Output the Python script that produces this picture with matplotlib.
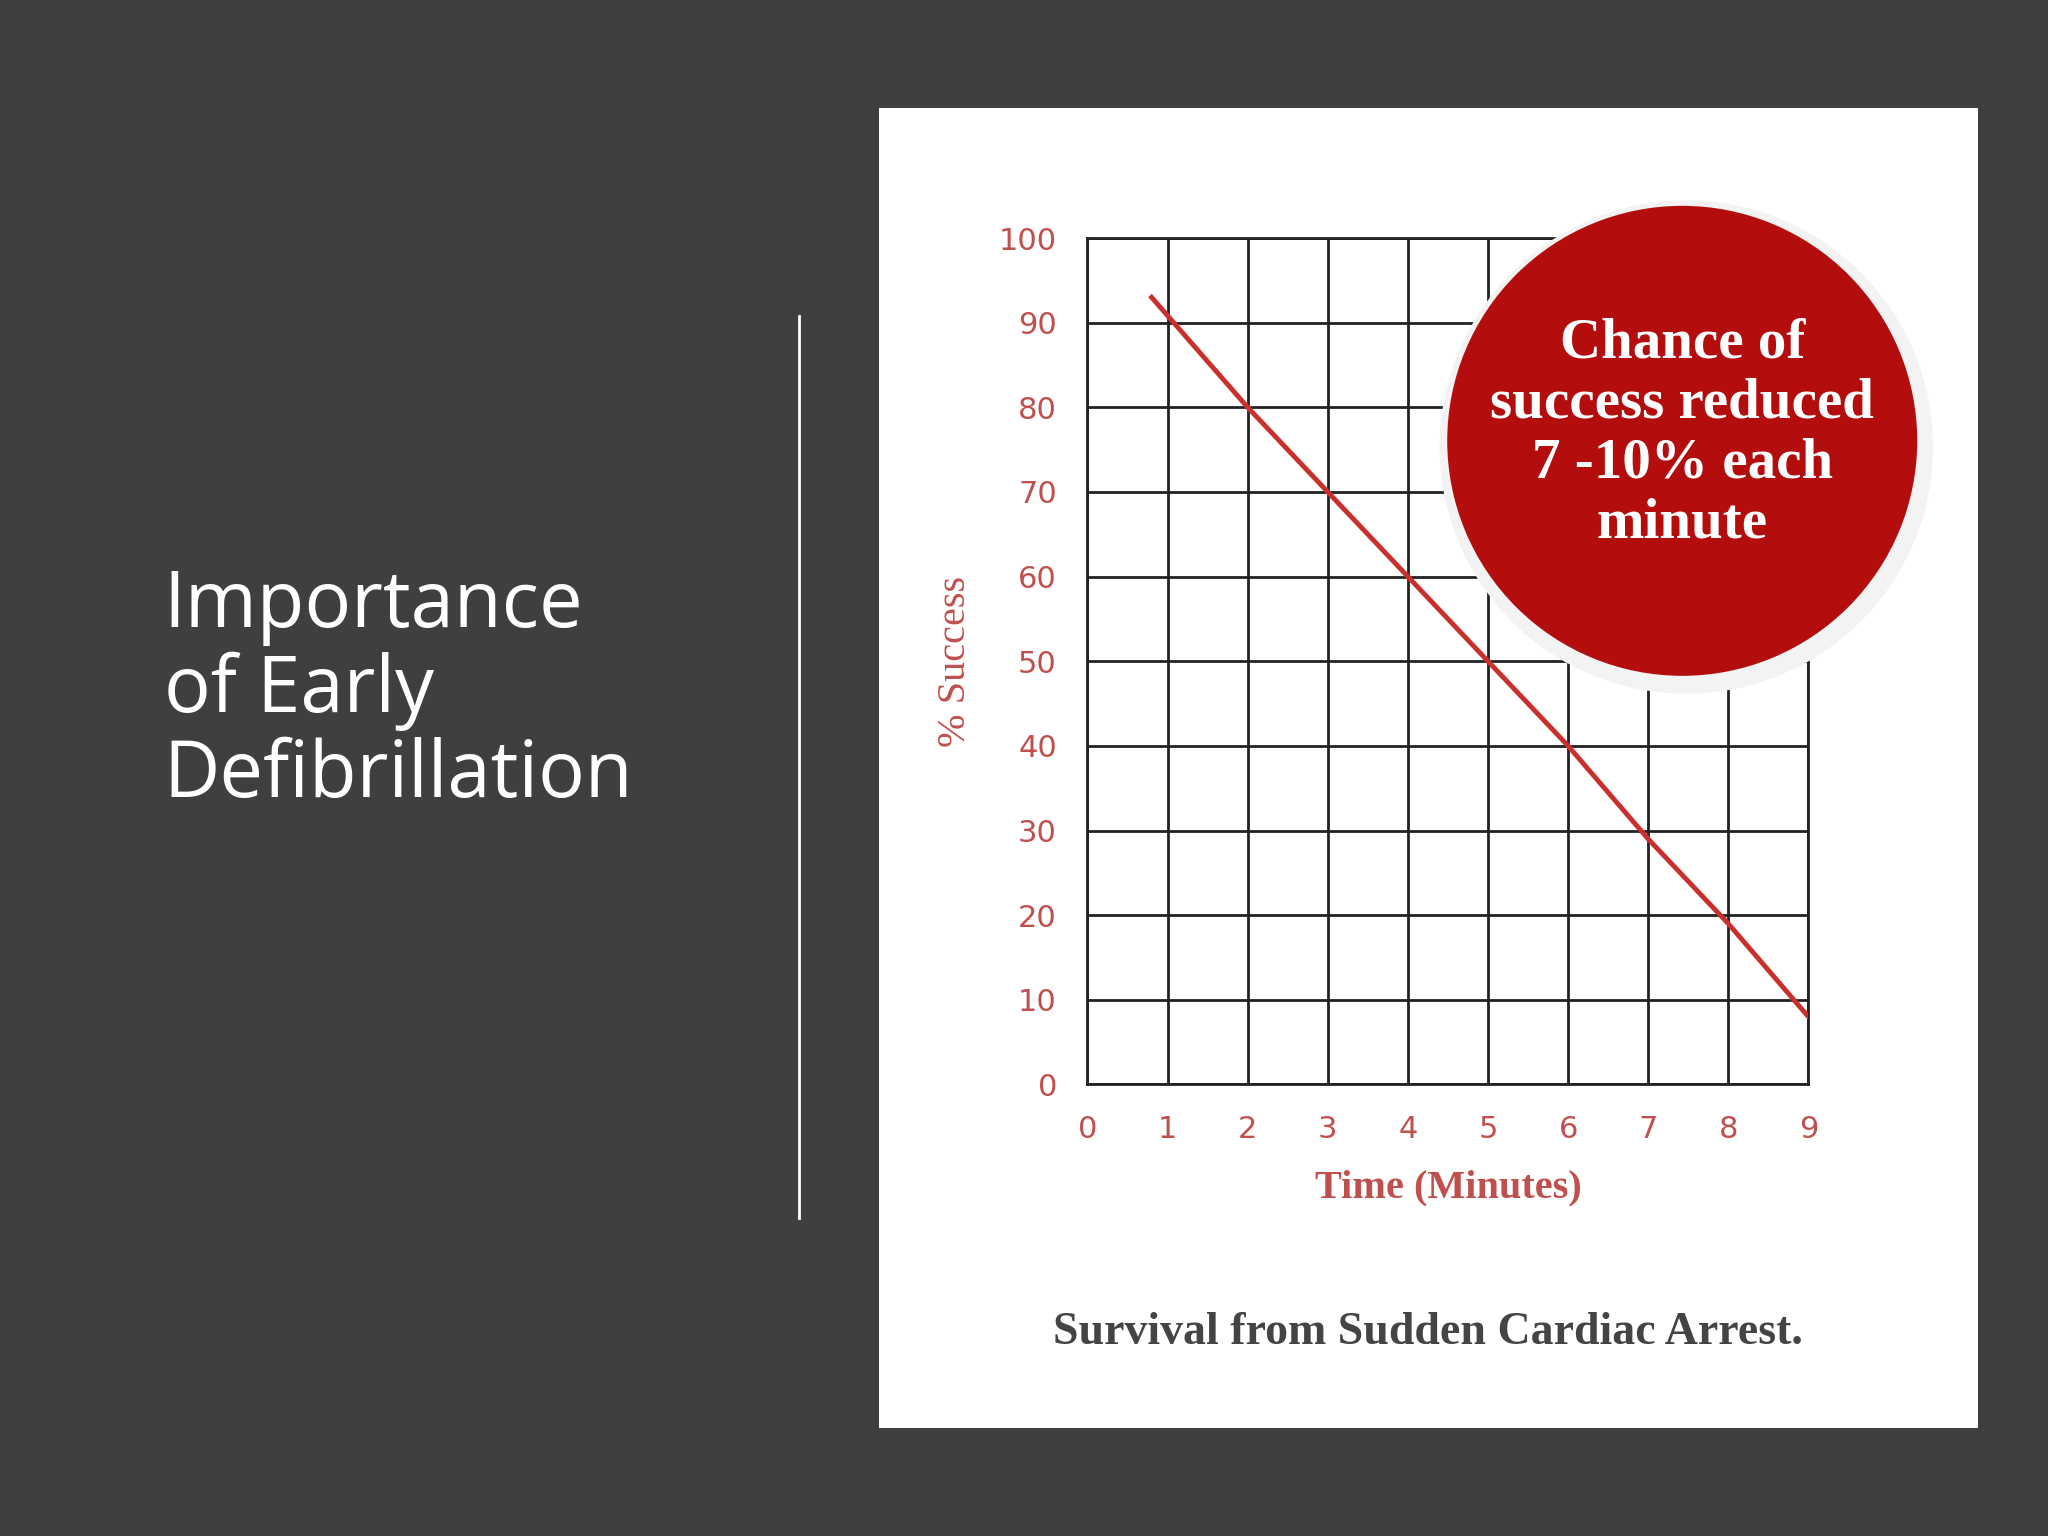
import matplotlib.pyplot as plt
from matplotlib.patches import Ellipse, Rectangle
from matplotlib.lines import Line2D

# data
minutes = [0.8, 2, 3, 4, 5, 6, 7, 8, 9]
success = [93, 80, 70, 60, 50, 40, 29, 19, 8]
x_ticks = list(range(10))
y_ticks = list(range(0, 101, 10))

bg = "#3f3f3f"
red_txt = "#c0504d"
line_red = "#c9302c"

fig = plt.figure(figsize=(20.48, 15.36), dpi=100, facecolor=bg)

# white card
fig.patches.append(Rectangle((0.429, 0.070), 0.537, 0.860, transform=fig.transFigure,
                             facecolor="white", edgecolor="none", zorder=-1))
# divider
fig.lines.append(Line2D([0.390, 0.390], [0.207, 0.794], transform=fig.transFigure,
                        color="white", lw=2))

fig.text(0.080, 0.550, "Importance\nof Early\nDefibrillation", color="white",
         family="Open Sans", fontsize=56, va="center", ha="left", linespacing=1.1)

ax = fig.add_axes([0.531, 0.294, 0.352, 0.551])
ax.set_zorder(1)
ax.set_facecolor("white")
ax.plot(minutes, success, color=line_red, lw=3.5, zorder=3)
ax.set_xlim(0, 9)
ax.set_ylim(0, 100)
ax.set_xticks(x_ticks)
ax.set_yticks(y_ticks)
ax.grid(True, color="#222222", lw=2)
for s in ax.spines.values():
    s.set_color("#222222")
    s.set_linewidth(2)
ax.tick_params(length=0, colors=red_txt, labelsize=22, pad=22)
for lab in ax.get_xticklabels() + ax.get_yticklabels():
    lab.set_family("DejaVu Sans")
ax.set_xlabel("Time (Minutes)", color=red_txt, family="Liberation Serif",
              fontsize=29, fontweight="bold", labelpad=18)
ax.set_ylabel("% Success", color=red_txt, family="Liberation Serif",
              fontsize=29, labelpad=18)

# badge
cx, cy, r = 0.8214, 0.713, 235
w, h = 2 * r / 2048, 2 * r / 1536
fig.patches.append(Ellipse((cx + 0.002, cy - 0.004), w * 1.05, h * 1.05, transform=fig.transFigure,
                           facecolor="#f3f3f3", edgecolor="none", zorder=5))
fig.patches.append(Ellipse((cx, cy), w, h, transform=fig.transFigure,
                           facecolor="#b30d0d", edgecolor="none", zorder=6))
fig.text(cx, cy + 0.005, "Chance of\nsuccess reduced\n7 -10% each\nminute", color="white",
         family="Liberation Serif", fontsize=41, fontweight="bold", ha="center", va="center",
         linespacing=1.2, zorder=7)

fig.text(0.697, 0.132, "Survival from Sudden Cardiac Arrest.", color="#444444",
         family="Liberation Serif", fontsize=33, fontweight="bold", ha="center", va="center")

fig.savefig("out.png", dpi=100, facecolor=bg)
